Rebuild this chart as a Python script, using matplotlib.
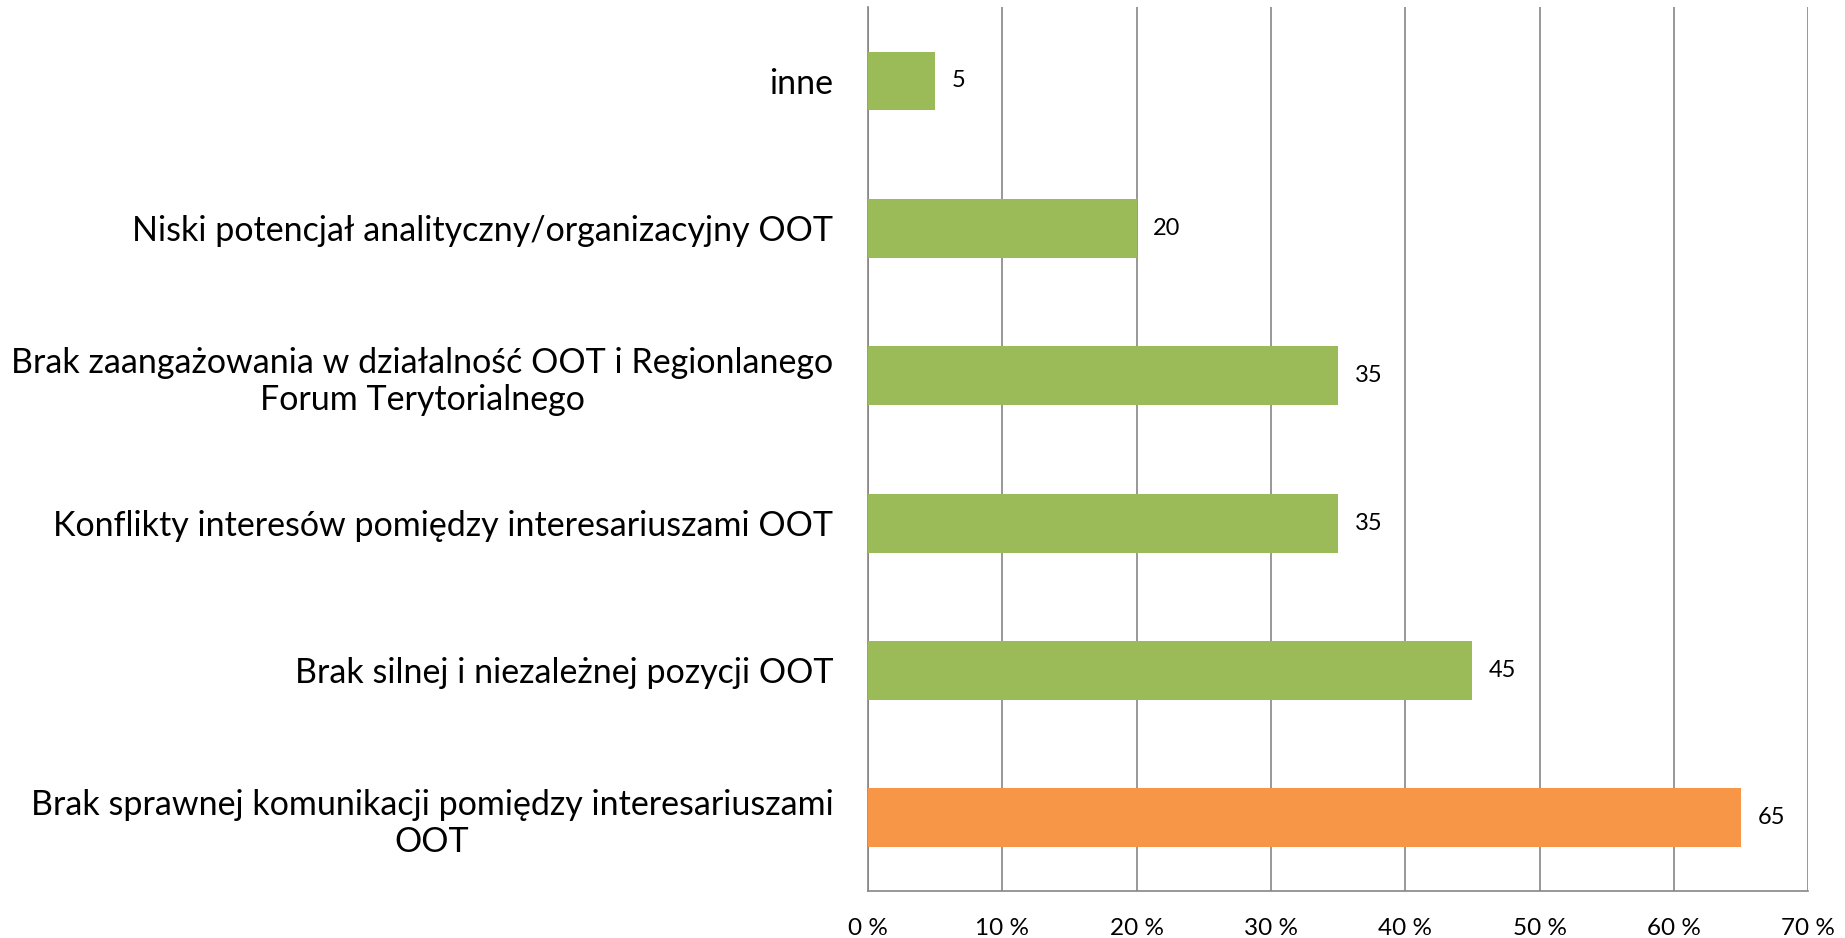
import matplotlib
matplotlib.use("Agg")
import matplotlib.pyplot as plt
from matplotlib.ticker import FuncFormatter

plt.rcParams["font.family"] = ["Lato", "DejaVu Sans"]

# top to bottom, as in the chart
categories = [
    "inne",
    "Niski potencjał analityczny/organizacyjny OOT",
    "Brak zaangażowania w działalność OOT i Regionlanego\nForum Terytorialnego",
    "Konflikty interesów pomiędzy interesariuszami OOT",
    "Brak silnej i niezależnej pozycji OOT",
    "Brak sprawnej komunikacji pomiędzy interesariuszami\nOOT",
]
values = [5, 20, 35, 35, 45, 65]
bar_colors = ["#9BBB59", "#9BBB59", "#9BBB59", "#9BBB59", "#9BBB59", "#F79646"]
x_ticks = [0, 10, 20, 30, 40, 50, 60, 70]

grid_color = "#868686"

fig = plt.figure(figsize=(18.45, 9.38), dpi=100)
ax = fig.add_axes([0.4705, 0.0496, 0.5095, 0.9426])

positions = list(range(len(categories)))
bars = ax.barh(positions, values, height=0.4, color=bar_colors, zorder=3)
ax.bar_label(bars, labels=[str(v) for v in values], padding=12, fontsize=17)

ax.set_ylim(len(categories) - 0.5, -0.5)
ax.set_xlim(0, 70)
ax.set_xticks(x_ticks)
ax.xaxis.set_major_formatter(FuncFormatter(lambda v, _: f"{v:.0f} %"))

ax.set_yticks(positions)
ax.set_yticklabels(categories, fontsize=24.5)
for label in ax.get_yticklabels():
    label.set_multialignment("center")

ax.tick_params(axis="y", length=0, pad=25)
ax.tick_params(axis="x", length=0, pad=19, labelsize=17.5)

ax.grid(axis="x", color=grid_color, linewidth=1.2, zorder=0)
for side in ["top", "right"]:
    ax.spines[side].set_visible(False)
for side in ["left", "bottom"]:
    ax.spines[side].set_color(grid_color)
    ax.spines[side].set_linewidth(1.2)

fig.savefig("out.png", dpi=100)
